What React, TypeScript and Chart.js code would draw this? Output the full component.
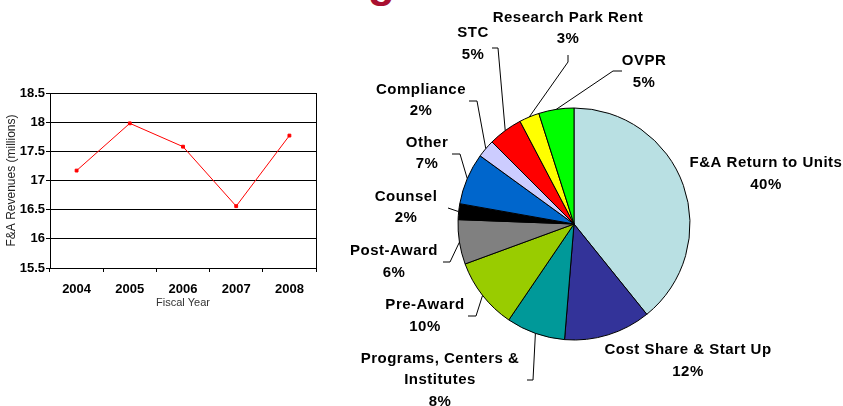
import React, { useEffect, useRef } from "react";
import { Chart, registerables } from "chart.js";

Chart.register(...registerables);

// ---------- Line chart data ----------
const years = ["2004", "2005", "2006", "2007", "2008"];
const revenues = [17.17, 17.98, 17.58, 16.56, 17.77];
const yMin = 15.5;
const yMax = 18.5;
const yStep = 0.5;

// ---------- Pie chart data ----------
const sliceNames = [
  ["F&A Return to Units"],
  ["Cost Share & Start Up"],
  ["Programs, Centers &", "Institutes"],
  ["Pre-Award"],
  ["Post-Award"],
  ["Counsel"],
  ["Other"],
  ["Compliance"],
  ["STC"],
  ["Research Park Rent"],
  ["OVPR"],
];
const sliceValues = [39.2, 12.1, 8.2, 9.9, 6.2, 2.2, 7.2, 2.5, 4.8, 2.8, 4.9];
const slicePercents = ["40%", "12%", "8%", "10%", "6%", "2%", "7%", "2%", "5%", "3%", "5%"];
const sliceColors = [
  "#B9E0E3",
  "#333399",
  "#009999",
  "#99CC00",
  "#808080",
  "#000000",
  "#0066CC",
  "#CCCCFF",
  "#FF0000",
  "#FFFF00",
  "#00FF00",
];

// Label layout (offsets from pie centre, px) and leader-line anchors
type Lay = { dx: number; dy: number; leader?: [number, number, number, number] };
const labelLayout: Lay[] = [
  { dx: 192, dy: -50 },
  { dx: 114, dy: 137 },
  { dx: -134, dy: 156, leader: [-47, 156, -41, 156] },
  { dx: -149, dy: 92, leader: [-106, 92, -98, 92] },
  { dx: -180, dy: 38, leader: [-131, 38, -124, 38] },
  { dx: -168, dy: -16.5, leader: [-126, -16, -126, -16] },
  { dx: -147, dy: -70.5, leader: [-122, -70, -114, -70] },
  { dx: -153, dy: -123.5, leader: [-105, -123, -97, -123] },
  { dx: -101, dy: -180, leader: [-82, -176, -76, -176] },
  { dx: -6, dy: -195.5, leader: [-6, -169, -6, -162] },
  { dx: 70, dy: -152, leader: [48, -153, 39, -153] },
];

const FONT = "'Liberation Sans', Arial, Helvetica, sans-serif";
Chart.defaults.font.family = FONT;

const plotBorderPlugin = {
  id: "plotBorder",
  afterDraw(chart: any) {
    const { ctx, chartArea } = chart;
    ctx.save();
    ctx.strokeStyle = "#000";
    ctx.lineWidth = 1;
    const x = Math.round(chartArea.right) + 0.5;
    ctx.beginPath();
    ctx.moveTo(x, chartArea.top);
    ctx.lineTo(x, chartArea.bottom);
    ctx.stroke();
    ctx.restore();
  },
};

const pieLabelPlugin = {
  id: "pieLabels",
  afterDatasetsDraw(chart: any) {
    const ctx = chart.ctx;
    const meta = chart.getDatasetMeta(0);
    ctx.save();
    ctx.font = `bold 15px ${FONT}`;
    try {
      (ctx as any).letterSpacing = "0.5px";
    } catch (e) {}
    ctx.fillStyle = "#000";
    ctx.strokeStyle = "#000";
    ctx.lineWidth = 1;
    ctx.textAlign = "center";
    ctx.textBaseline = "middle";
    const lh = 21.5;
    meta.data.forEach((arc: any, i: number) => {
      const p = arc.getProps(["x", "y", "startAngle", "endAngle", "outerRadius"], true);
      const cx = p.x;
      const cy = p.y;
      const mid = (p.startAngle + p.endAngle) / 2;
      const ex = cx + Math.cos(mid) * p.outerRadius;
      const ey = cy + Math.sin(mid) * p.outerRadius;
      const lay = labelLayout[i];
      const lines = [...sliceNames[i], slicePercents[i]];
      const top = cy + lay.dy - ((lines.length - 1) * lh) / 2;
      lines.forEach((t, j) => ctx.fillText(t, cx + lay.dx, top + j * lh));
      if (lay.leader) {
        const [ax, ay, bx, by] = lay.leader;
        ctx.beginPath();
        ctx.moveTo(cx + ax, cy + ay);
        ctx.lineTo(cx + bx, cy + by);
        ctx.lineTo(ex, ey);
        ctx.stroke();
      }
    });
    ctx.restore();
  },
};

function LineChart() {
  const ref = useRef<HTMLCanvasElement>(null);
  useEffect(() => {
    if (!ref.current) return;
    const chart = new Chart(ref.current, {
      type: "line",
      data: {
        labels: years,
        datasets: [
          {
            data: revenues,
            borderColor: "#FF0000",
            backgroundColor: "#FF0000",
            borderWidth: 1,
            pointStyle: "rect",
            pointRadius: 2,
            pointBorderWidth: 1,
            tension: 0,
          },
        ],
      },
      options: {
        responsive: false,
        animation: false,
        events: [],
        layout: { padding: { left: 0, top: 93, right: 14, bottom: 88 } },
        plugins: { legend: { display: false }, tooltip: { enabled: false } },
        scales: {
          x: {
            offset: true,
            grid: { offset: true, drawOnChartArea: false, tickLength: 4, color: "#000" },
            border: { color: "#000" },
            ticks: { color: "#000", font: { size: 13, weight: "bold" }, padding: 10, maxRotation: 0 },
            title: {
              display: true,
              text: "Fiscal Year",
              color: "#333",
              font: { size: 11 },
              padding: { top: 0, bottom: 8 },
            },
            afterFit: (s: any) => {
              s.height = 50;
            },
          },
          y: {
            min: yMin,
            max: yMax,
            grid: { color: "#000", tickLength: 4 },
            border: { color: "#000" },
            ticks: {
              stepSize: yStep,
              color: "#000",
              font: { size: 13, weight: "bold" },
              padding: 1,
              callback: (v: any) => String(v),
            },
            title: {
              display: true,
              text: "F&A Revenues (millions)",
              color: "#222",
              font: { size: 12 },
              padding: { top: 4, bottom: 0 },
            },
            afterFit: (s: any) => {
              s.width = 50;
            },
          },
        },
      } as any,
      plugins: [plotBorderPlugin],
    });
    return () => chart.destroy();
  }, []);
  return <canvas ref={ref} width={330} height={406} style={{ position: "absolute", left: 0, top: 0 }} />;
}

function PieChart() {
  const ref = useRef<HTMLCanvasElement>(null);
  useEffect(() => {
    if (!ref.current) return;
    const chart = new Chart(ref.current, {
      type: "pie",
      data: {
        labels: sliceNames.map((n) => n.join(" ")),
        datasets: [
          {
            data: sliceValues,
            backgroundColor: sliceColors,
            borderColor: "#000",
            borderWidth: 1,
            hoverOffset: 0,
            radius: 116,
          } as any,
        ],
      },
      options: {
        responsive: false,
        animation: false,
        events: [],
        layout: { padding: { left: 128, right: 153, top: 108, bottom: 66 } },
        plugins: { legend: { display: false }, tooltip: { enabled: false } },
      } as any,
      plugins: [pieLabelPlugin],
    });
    return () => chart.destroy();
  }, []);
  return <canvas ref={ref} width={513} height={406} style={{ position: "absolute", left: 330, top: 0 }} />;
}

export default function App() {
  return (
    <div
      style={{
        position: "fixed",
        left: 0,
        top: 0,
        width: 843,
        height: 406,
        background: "#fff",
        overflow: "hidden",
      }}
    >
      <div
        style={{
          position: "absolute",
          left: 368,
          top: -40,
          font: `bold 44px ${FONT}`,
          lineHeight: "44px",
          color: "#A91030",
        }}
      >
        g
      </div>
      <LineChart />
      <PieChart />
    </div>
  );
}
